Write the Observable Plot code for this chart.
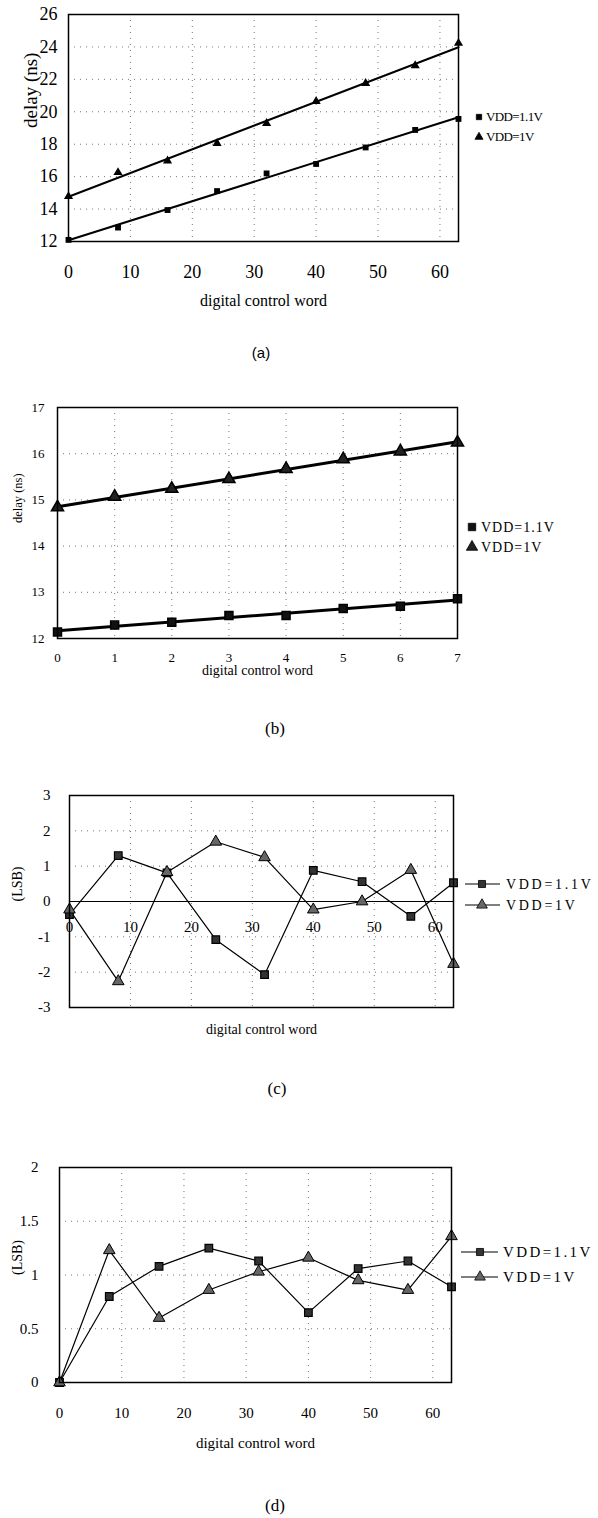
<!DOCTYPE html>
<html><head><meta charset="utf-8">
<script src="https://cdn.jsdelivr.net/npm/d3@7"></script>
<script src="https://cdn.jsdelivr.net/npm/@observablehq/plot@0.6"></script>
<style>
body{margin:0;background:#fff;}
#page{position:relative;width:598px;height:1518px;overflow:hidden;background:#fff;}
.panel{position:absolute;left:0;}
.panel svg text{font-family:"Liberation Serif","Times New Roman",serif;}
#overlay{position:absolute;left:0;top:0;}
</style></head><body><div id="page"></div>
<script>
// ---------- data ----------
const wordsFull = [0, 8, 16, 24, 32, 40, 48, 56, 63];
const wordsLow = [0, 1, 2, 3, 4, 5, 6, 7];
const seriesNames = ["VDD=1.1V", "VDD=1V"];

// (a) delay vs digital control word, full range
const delayA11 = [12.1, 12.86, 13.94, 15.11, 16.2, 16.78, 17.8, 18.88, 19.56];
const delayA10 = [14.78, 16.26, 16.98, 18.05, 19.29, 20.65, 21.76, 22.85, 24.23];
// (b) delay vs digital control word, low range
const delayB11 = [12.14, 12.29, 12.35, 12.5, 12.5, 12.65, 12.7, 12.86];
const delayB10 = [14.84, 15.07, 15.24, 15.45, 15.67, 15.88, 16.05, 16.24];
// (c) DNL (LSB)
const dnlC11 = [-0.37, 1.3, 0.81, -1.08, -2.07, 0.88, 0.56, -0.42, 0.53];
const dnlC10 = [-0.23, -2.26, 0.83, 1.69, 1.25, -0.23, 0, 0.89, -1.77];
// (d) INL (LSB)
const inlD11 = [0, 0.8, 1.08, 1.25, 1.13, 0.65, 1.06, 1.13, 0.89];
const inlD10 = [0, 1.23, 0.6, 0.86, 1.03, 1.16, 0.95, 0.86, 1.36];

// ticks and labels
const ticksFullX = [0, 10, 20, 30, 40, 50, 60];
const ticksLowX = [0, 1, 2, 3, 4, 5, 6, 7];
const ticksAY = [12, 14, 16, 18, 20, 22, 24, 26];
const ticksBY = [12, 13, 14, 15, 16, 17];
const ticksCY = [-3, -2, -1, 0, 1, 2, 3];
const ticksDY = [0, 0.5, 1, 1.5, 2];
const xTitle = "digital control word";
const yTitles = ["delay (ns)", "delay (ns)", "(LSB)", "(LSB)"];
const captions = ["(a)", "(b)", "(c)", "(d)"];

// ---------- helpers ----------
const rows = (xs, ys) => xs.map((x, i) => ({x, y: ys[i]}));
const page = document.getElementById("page");
const serif = "'Liberation Serif', 'Times New Roman', serif";
const grid = {stroke: "#666", strokeOpacity: 0.9, strokeDasharray: "1,5", strokeWidth: 1};
const fmt = d => String(d);

function place(svg, top) {
  svg.querySelectorAll("text").forEach(t => t.setAttribute("font-family", serif));
  const div = document.createElement("div");
  div.className = "panel";
  div.style.top = top + "px";
  div.appendChild(svg);
  page.appendChild(div);
  return svg;
}
function spacing(svg, label, px) {
  svg.querySelectorAll(`g[aria-label="${label}"] text`).forEach(t => t.style.letterSpacing = px + "px");
}
const baseStyle = {color: "black", background: "white"};

// ---------- (a) ----------
const pa = Plot.plot({
  width: 598, height: 320,
  marginTop: 14, marginBottom: 79, marginLeft: 68, marginRight: 140,
  style: baseStyle,
  x: {domain: [0, 63], axis: null}, y: {domain: [12, 26], axis: null},
  marks: [
    Plot.gridX(ticksFullX.slice(1), grid),
    Plot.gridY(ticksAY.slice(1, -1), grid),
    Plot.axisX(ticksFullX, {tickSize: 0, tickPadding: 24, fontSize: 18, label: null, tickFormat: fmt}),
    Plot.axisY(ticksAY, {tickSize: 0, tickPadding: 11, fontSize: 18, label: null, tickFormat: fmt}),
    Plot.linearRegressionY(rows(wordsFull, delayA11), {x: "x", y: "y", ci: 0, stroke: "black", strokeWidth: 2}),
    Plot.linearRegressionY(rows(wordsFull, delayA10), {x: "x", y: "y", ci: 0, stroke: "black", strokeWidth: 2}),
    Plot.dot(rows(wordsFull, delayA11), {x: "x", y: "y", symbol: "square", r: 3.3, fill: "black"}),
    Plot.dot(rows(wordsFull, delayA10), {x: "x", y: "y", symbol: "triangle", r: 3.4, fill: "black"}),
    Plot.frame({stroke: "black", strokeWidth: 1.5}),
    Plot.text([yTitles[0]], {frameAnchor: "left", rotate: -90, dx: -38, fontSize: 19, text: d => d}),
    Plot.text([xTitle], {frameAnchor: "bottom", dy: 64, fontSize: 16, text: d => d})
  ]
});
place(pa, 0);

// ---------- (b) ----------
const pb = Plot.plot({
  width: 598, height: 310,
  marginTop: 27, marginBottom: 52, marginLeft: 57, marginRight: 141,
  style: baseStyle,
  x: {domain: [0, 7], axis: null}, y: {domain: [12, 17], axis: null},
  marks: [
    Plot.gridX(ticksLowX.slice(1, -1), grid),
    Plot.gridY(ticksBY.slice(1, -1), grid),
    Plot.axisX(ticksLowX, {tickSize: 0, tickPadding: 14, fontSize: 13, label: null, tickFormat: fmt}),
    Plot.axisY(ticksBY, {tickSize: 0, tickPadding: 13, fontSize: 13, label: null, tickFormat: fmt}),
    Plot.linearRegressionY(rows(wordsLow, delayB11), {x: "x", y: "y", ci: 0, stroke: "black", strokeWidth: 3}),
    Plot.linearRegressionY(rows(wordsLow, delayB10), {x: "x", y: "y", ci: 0, stroke: "black", strokeWidth: 3}),
    Plot.dot(rows(wordsLow, delayB11), {x: "x", y: "y", symbol: "square", r: 4.5, fill: "#111", stroke: "black"}),
    Plot.dot(rows(wordsLow, delayB10), {x: "x", y: "y", symbol: "triangle", r: 4.5, fill: "#222", stroke: "black"}),
    Plot.frame({stroke: "black", strokeWidth: 1.5}),
    Plot.text([yTitles[1]], {frameAnchor: "left", rotate: -90, dx: -40, fontSize: 12.5, text: d => d}),
    Plot.text([xTitle], {frameAnchor: "bottom", dy: 36, fontSize: 14, text: d => d, ariaLabel: "xtitle"})
  ]
});
spacing(pb, "xtitle", 1);
place(pb, 380);

// ---------- (c) ----------
const pc = Plot.plot({
  width: 598, height: 290,
  marginTop: 35, marginBottom: 43, marginLeft: 69, marginRight: 145,
  style: baseStyle,
  x: {domain: [0, 63], axis: null}, y: {domain: [-3, 3], axis: null},
  marks: [
    Plot.gridX(ticksFullX.slice(1), grid),
    Plot.gridY([-2, -1, 1, 2], grid),
    Plot.ruleY([0], {stroke: "black", strokeWidth: 1}),
    Plot.axisY(ticksCY, {tickSize: 0, tickPadding: 19, fontSize: 15, label: null, tickFormat: fmt}),
    Plot.text(ticksFullX, {x: d => d, y: 0, dy: 26, fontSize: 15, text: fmt, ariaLabel: "xticks"}),
    Plot.line(rows(wordsFull, dnlC11), {x: "x", y: "y", stroke: "black", strokeWidth: 1.2}),
    Plot.line(rows(wordsFull, dnlC10), {x: "x", y: "y", stroke: "black", strokeWidth: 1.2}),
    Plot.dot(rows(wordsFull, dnlC11), {x: "x", y: "y", symbol: "square", r: 4.3, fill: "#333", stroke: "black", strokeWidth: 1.2}),
    Plot.dot(rows(wordsFull, dnlC10), {x: "x", y: "y", symbol: "triangle", r: 4.3, fill: "#666", stroke: "black", strokeWidth: 1}),
    Plot.frame({stroke: "black", strokeWidth: 1.5}),
    Plot.text([yTitles[2]], {frameAnchor: "left", rotate: -90, dx: -52, fontSize: 14, text: d => d}),
    Plot.text([xTitle], {frameAnchor: "bottom", dy: 26, fontSize: 14, text: d => d, ariaLabel: "xtitle"})
  ]
});
spacing(pc, "xtitle", 2.2);
spacing(pc, "xticks", 2);
place(pc, 760);

// ---------- (d) ----------
const pd = Plot.plot({
  width: 598, height: 330,
  marginTop: 27, marginBottom: 88, marginLeft: 59, marginRight: 147,
  style: baseStyle,
  x: {domain: [0, 63], axis: null}, y: {domain: [0, 2], axis: null},
  marks: [
    Plot.gridX(ticksFullX.slice(1), grid),
    Plot.gridY([0.5, 1, 1.5], grid),
    Plot.axisX(ticksFullX, {tickSize: 0, tickPadding: 25, fontSize: 15, label: null, tickFormat: fmt}),
    Plot.axisY(ticksDY, {tickSize: 0, tickPadding: 21, fontSize: 15, label: null, tickFormat: fmt}),
    Plot.line(rows(wordsFull, inlD11), {x: "x", y: "y", stroke: "black", strokeWidth: 1.2}),
    Plot.line(rows(wordsFull, inlD10), {x: "x", y: "y", stroke: "black", strokeWidth: 1.2}),
    Plot.dot(rows(wordsFull, inlD11), {x: "x", y: "y", symbol: "square", r: 4.3, fill: "#333", stroke: "black", strokeWidth: 1.2}),
    Plot.dot(rows(wordsFull, inlD10), {x: "x", y: "y", symbol: "triangle", r: 4.3, fill: "#666", stroke: "black", strokeWidth: 1}),
    Plot.frame({stroke: "black", strokeWidth: 1.5}),
    Plot.text([yTitles[3]], {frameAnchor: "left", rotate: -90, dx: -42, fontSize: 14, text: d => d}),
    Plot.text([xTitle], {frameAnchor: "bottom", dy: 65, fontSize: 15, text: d => d, ariaLabel: "xtitle"})
  ]
});
spacing(pd, "xtitle", 1.8);
place(pd, 1140);

// ---------- legends and captions (overlay) ----------
const ov = d3.select(page).append("svg").attr("id", "overlay")
  .attr("width", 598).attr("height", 1518);
const symType = [d3.symbolSquare, d3.symbolTriangle];
const legends = [
  {ys: [117, 137], line: null, mx: 479, tx: 486, r: 3.0, fs: 13, ls: -0.6, fills: ["black", "black"]},
  {ys: [527, 547], line: null, mx: 472, tx: 481, r: 4.2, fs: 14, ls: 1, fills: ["#111", "#222"]},
  {ys: [884, 905], line: [465, 500], mx: 482, tx: 506, r: 4.0, fs: 14, ls: 2.7, fills: ["#333", "#666"]},
  {ys: [1252, 1277], line: [461, 498], mx: 480, tx: 503, r: 4.0, fs: 15, ls: 2.4, fills: ["#333", "#666"]}
];
legends.forEach(L => {
  seriesNames.forEach((name, i) => {
    const y = L.ys[i];
    if (L.line) ov.append("line").attr("x1", L.line[0]).attr("x2", L.line[1]).attr("y1", y).attr("y2", y)
      .attr("stroke", "black").attr("stroke-width", 1.2);
    ov.append("path").attr("d", d3.symbol(symType[i], Math.PI * L.r * L.r)())
      .attr("transform", `translate(${L.mx},${y})`).attr("fill", L.fills[i]).attr("stroke", "black").attr("stroke-width", 0.8);
    ov.append("text").attr("x", L.tx).attr("y", y).attr("dy", "0.34em")
      .attr("font-family", serif).attr("font-size", L.fs).style("letter-spacing", L.ls + "px")
      .text(name);
  });
});
const capPos = [[261, 353, "'Liberation Sans', Arial, sans-serif", 15], [275, 728, serif, 17], [277, 1088, serif, 17], [275, 1505, serif, 17]];
captions.forEach((c, i) => {
  const [x, y, ff, fs] = capPos[i];
  ov.append("text").attr("x", x).attr("y", y).attr("dy", "0.34em").attr("text-anchor", "middle")
    .attr("font-family", ff).attr("font-size", fs).text(c);
});
</script></body></html>
